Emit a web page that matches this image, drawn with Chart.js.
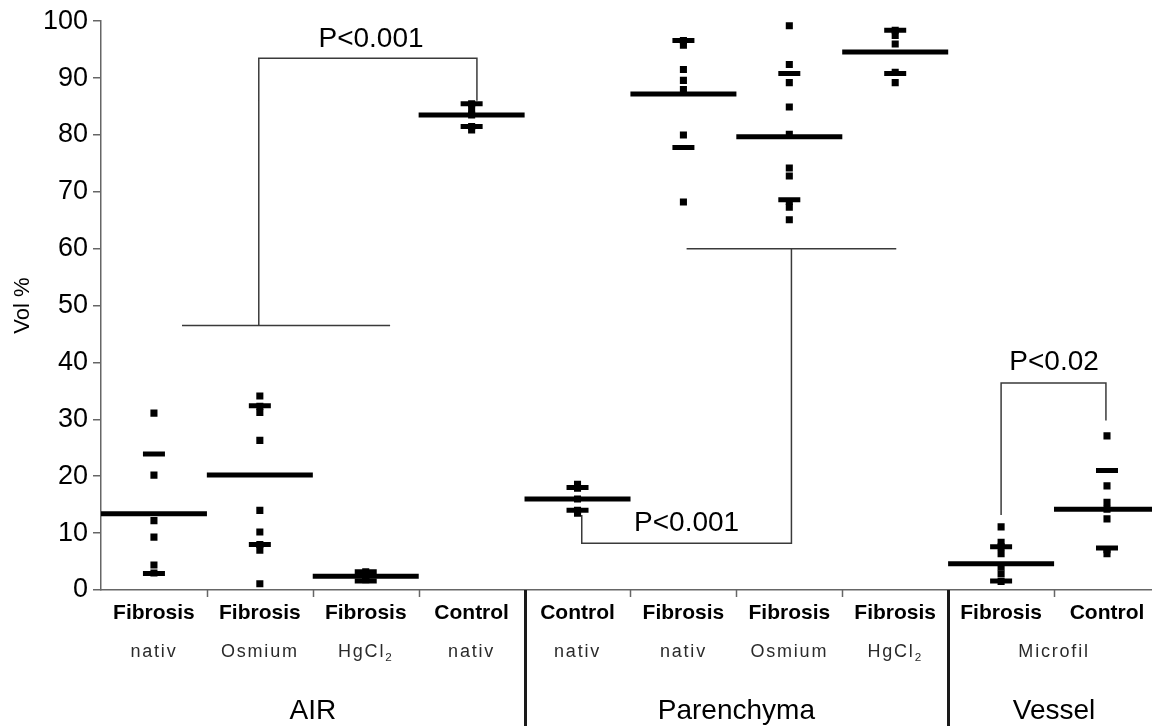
<!DOCTYPE html>
<html>
<head>
<meta charset="utf-8">
<script src="https://cdn.jsdelivr.net/npm/chart.js@4.4.1/dist/chart.umd.min.js"></script>
<style>
body { margin: 0; background: #fff; }
#wrap { width: 1152px; height: 726px; }
</style>
</head>
<body>
<div id="wrap"><canvas id="chart"></canvas></div>
<script>
// categories (one per column)
const groupNames = ['Fibrosis', 'Fibrosis', 'Fibrosis', 'Control', 'Control', 'Fibrosis', 'Fibrosis', 'Fibrosis', 'Fibrosis', 'Control'];
const methods = ['nativ', 'Osmium', 'HgCl₂', 'nativ', 'nativ', 'nativ', 'Osmium', 'HgCl₂', 'Microfil', null]; // null = previous label spans
const tissues = ['AIR', 'AIR', 'AIR', 'AIR', 'Parenchyma', 'Parenchyma', 'Parenchyma', 'Parenchyma', 'Vessel', 'Vessel'];

// single values (Vol %)
const airFibNativ = [31.1, 20.2, 12.2, 9.3, 4.4, 3.0];
const airFibOsmium = [34.1, 32.3, 31.2, 26.3, 14.0, 10.2, 8.0, 7.0, 1.1];
const airFibHgCl = [3.2, 2.9, 2.5, 2.2, 1.8];
const airCtrlNativ = [85.5, 84.5, 83.5, 81.5, 80.9];
const parCtrlNativ = [18.6, 17.9, 16.0, 14.0, 13.5];
const parFibNativ = [96.6, 95.8, 91.5, 89.6, 88.0, 80.0, 68.2];
const parFibOsmium = [99.2, 92.4, 89.2, 84.9, 80.1, 74.2, 72.8, 68.3, 67.3, 65.1];
const parFibHgCl = [98.4, 97.5, 96.0, 91.0, 89.2];
const vesFibMicrofil = [11.1, 8.4, 7.6, 6.4, 4.0, 2.8, 1.5];
const vesCtrlMicrofil = [27.1, 18.3, 15.4, 14.2, 12.5, 7.1, 6.4];
const dotValues = [airFibNativ, airFibOsmium, airFibHgCl, airCtrlNativ, parCtrlNativ,
                   parFibNativ, parFibOsmium, parFibHgCl, vesFibMicrofil, vesCtrlMicrofil];

// mean and SD per column
const means = [13.4, 20.2, 2.4, 83.5, 16.0, 87.2, 79.7, 94.6, 4.6, 14.2];
const sds = [10.5, 12.2, 0.8, 2.0, 2.0, 9.4, 11.1, 3.8, 3.0, 6.8];

const yTicks = [0, 10, 20, 30, 40, 50, 60, 70, 80, 90, 100];

// significance brackets, in axis units (x = column index, y = Vol %)
const bracketAirBar = [[0.765, 46.5], [2.73, 46.5]];
const bracketAir = [[1.49, 46.5], [1.49, 93.5], [3.55, 93.5], [3.55, 86]];
const bracketParBar = [[5.53, 60], [7.51, 60]];
const bracketPar = [[6.52, 60], [6.52, 8.2], [4.54, 8.2], [4.54, 13.2]];
const bracketVessel = [[8.5, 13.2], [8.5, 36.4], [9.49, 36.4], [9.49, 29.8]];
const pLabels = [
  { text: 'P<0.001', x: 2.55, y: 95.5 },
  { text: 'P<0.001', x: 5.53, y: 10.3 },
  { text: 'P<0.02', x: 9.0, y: 38.6 }
];

const FONT = '"Liberation Sans", Arial, sans-serif';

const dotData = [];
dotValues.forEach((vals, i) => vals.forEach(v => dotData.push({ x: i + 0.5, y: v })));
const meanData = means.map((m, i) => ({ x: i + 0.5, y: m }));
const capData = [];
means.forEach((m, i) => {
  capData.push({ x: i + 0.5, y: m + sds[i] });
  capData.push({ x: i + 0.5, y: m - sds[i] });
});

function bracketSet(points) {
  return {
    type: 'line',
    data: points.map(p => ({ x: p[0], y: p[1] })),
    borderColor: '#3a3a3a',
    borderWidth: 1.5,
    pointRadius: 0,
    fill: false,
    tension: 0
  };
}

function drawSub(ctx, text, cx, cy, size) {
  // handles the subscript in HgCl2
  const parts = text.split('₂');
  ctx.font = size + 'px ' + FONT;
  const main = parts[0];
  const wMain = ctx.measureText(main).width;
  let wSub = 0;
  if (parts.length > 1) {
    ctx.font = (size * 0.65) + 'px ' + FONT;
    wSub = ctx.measureText('2').width;
  }
  const left = cx - (wMain + wSub) / 2;
  ctx.textAlign = 'left';
  ctx.font = size + 'px ' + FONT;
  ctx.fillText(main, left, cy);
  if (parts.length > 1) {
    ctx.font = (size * 0.65) + 'px ' + FONT;
    ctx.fillText('2', left + wMain, cy + size * 0.3);
  }
}

const labelPlugin = {
  id: 'labelPlugin',
  afterDraw(chart) {
    const { ctx, chartArea } = chart;
    const x = chart.scales.x;
    const y = chart.scales.y;
    const base = chartArea.bottom;
    ctx.save();

    // column boundaries
    for (let i = 1; i < groupNames.length; i++) {
      const px = Math.round(x.getPixelForValue(i)) + 0.5;
      const heavy = tissues[i] !== tissues[i - 1];
      ctx.beginPath();
      ctx.strokeStyle = heavy ? '#1a1a1a' : '#666';
      ctx.lineWidth = heavy ? 3 : 1.5;
      ctx.moveTo(px, base);
      ctx.lineTo(px, heavy ? chart.height : base + 7);
      ctx.stroke();
    }

    ctx.fillStyle = '#000';
    ctx.textBaseline = 'middle';

    // row 1: group
    ctx.font = 'bold 21px ' + FONT;
    ctx.textAlign = 'center';
    groupNames.forEach((g, i) => ctx.fillText(g, x.getPixelForValue(i + 0.5), base + 23));

    // row 2: method
    ctx.fillStyle = '#2a2a2a';
    ctx.letterSpacing = '1.8px';
    methods.forEach((m, i) => {
      if (m === null) return;
      let span = 1;
      while (i + span < methods.length && methods[i + span] === null) span++;
      drawSub(ctx, m, x.getPixelForValue(i + span / 2), base + 62, 18);
    });
    ctx.letterSpacing = '0px';

    // row 3: tissue
    ctx.fillStyle = '#000';
    ctx.font = '28px ' + FONT;
    ctx.textAlign = 'center';
    let start = 0;
    for (let i = 1; i <= tissues.length; i++) {
      if (i === tissues.length || tissues[i] !== tissues[start]) {
        ctx.fillText(tissues[start], x.getPixelForValue((start + i) / 2), base + 121);
        start = i;
      }
    }

    // p values
    ctx.font = '28px ' + FONT;
    ctx.textBaseline = 'alphabetic';
    pLabels.forEach(p => ctx.fillText(p.text, x.getPixelForValue(p.x), y.getPixelForValue(p.y)));

    // y axis title
    ctx.save();
    ctx.translate(23, (chartArea.top + chartArea.bottom) / 2);
    ctx.rotate(-Math.PI / 2);
    ctx.font = '22px ' + FONT;
    ctx.textBaseline = 'middle';
    ctx.fillText('Vol %', 0, 0);
    ctx.restore();

    ctx.restore();
  }
};

new Chart(document.getElementById('chart'), {
  data: {
    datasets: [
      {
        type: 'scatter',
        data: meanData,
        pointStyle: 'line',
        pointRadius: 53,
        borderColor: '#000',
        borderWidth: 5
      },
      {
        type: 'scatter',
        data: capData,
        pointStyle: 'line',
        pointRadius: 11,
        borderColor: '#000',
        borderWidth: 5
      },
      {
        type: 'scatter',
        data: dotData,
        pointStyle: 'rect',
        pointRadius: 5,
        backgroundColor: '#000',
        borderWidth: 0
      },
      bracketSet(bracketAirBar),
      bracketSet(bracketAir),
      bracketSet(bracketParBar),
      bracketSet(bracketPar),
      bracketSet(bracketVessel)
    ]
  },
  options: {
    responsive: true,
    maintainAspectRatio: false,
    animation: false,
    events: [],
    layout: { autoPadding: false, padding: { top: 20, left: 0, right: 0, bottom: 0 } },
    plugins: { legend: { display: false }, tooltip: { enabled: false } },
    scales: {
      x: {
        type: 'linear',
        min: 0,
        max: 9.925,
        ticks: { display: false },
        grid: { display: false },
        border: { display: true, color: '#666', width: 1.5 },
        afterFit: s => { s.height = 136; }
      },
      y: {
        type: 'linear',
        min: 0,
        max: 100,
        afterBuildTicks: s => { s.ticks = yTicks.map(v => ({ value: v })); },
        ticks: { color: '#000', padding: 5, font: { family: FONT, size: 27 } },
        grid: { drawOnChartArea: false, drawTicks: true, tickLength: 8, color: '#666', lineWidth: 1.5 },
        border: { display: true, color: '#666', width: 1.5 },
        afterFit: s => { s.width = 101; }
      }
    }
  },
  plugins: [labelPlugin]
});
</script>
</body>
</html>
